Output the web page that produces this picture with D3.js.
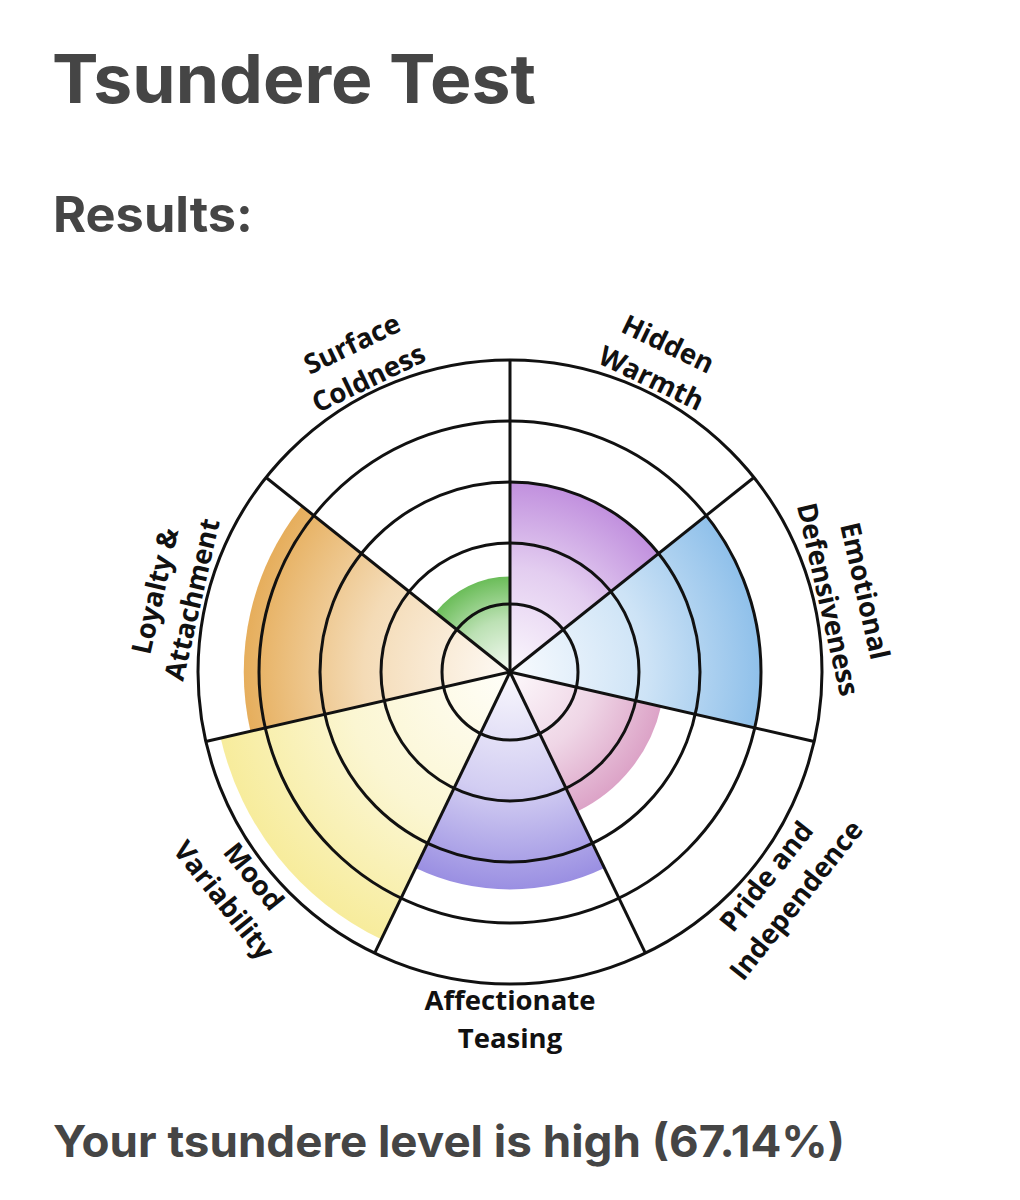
<!DOCTYPE html>
<html>
<head>
<meta charset="utf-8">
<script src="https://cdn.jsdelivr.net/npm/d3@7"></script>
<style>
  html, body { margin: 0; padding: 0; background: #ffffff; }
  svg { display: block; }
</style>
</head>
<body>
<svg id="chart" width="1020" height="1200"></svg>
<script>
// ---- data ----
const categories = ["Hidden Warmth", "Emotional Defensiveness", "Pride and Independence",
  "Affectionate Teasing", "Mood Variability", "Loyalty & Attachment", "Surface Coldness"];
const labelLines = [["Hidden", "Warmth"], ["Emotional", "Defensiveness"], ["Pride and", "Independence"],
  ["Affectionate", "Teasing"], ["Mood", "Variability"], ["Loyalty &", "Attachment"], ["Surface", "Coldness"]];
const values = [60, 80, 48.5, 69, 95, 85, 29];
const colors = ["#c190de", "#8fc0ea", "#dca3c7", "#9a8fe2", "#f7ec9c", "#e6ae5c", "#6bbd59"];
const ringTicks = [20, 40, 60, 80, 100];
const titleText = "Tsundere Test";
const subtitleText = "Results:";
const resultText = "Your tsundere level is high (67.14%)";

// ---- layout ----
const svg = d3.select("#chart");
const cx = 510, cy = 672;
const n = categories.length;
const r = d3.scaleLinear().domain([0, 100]).range([7, 312]);
const ang = d3.scaleLinear().domain([0, n]).range([0, 2 * Math.PI]);
const textColor = "#454545";
const titleFont = "Inter, 'Open Sans', sans-serif";

svg.append("text").attr("x", 52).attr("y", 103)
  .attr("font-family", titleFont).attr("font-weight", 700).attr("font-size", 67)
  .attr("fill", textColor).attr("textLength", 484).attr("lengthAdjust", "spacingAndGlyphs")
  .text(titleText);
svg.append("text").attr("x", 53).attr("y", 232)
  .attr("font-family", titleFont).attr("font-weight", 700).attr("font-size", 49)
  .attr("fill", textColor).attr("textLength", 200).attr("lengthAdjust", "spacingAndGlyphs")
  .text(subtitleText);
svg.append("text").attr("x", 53).attr("y", 1157)
  .attr("font-family", titleFont).attr("font-weight", 700).attr("font-size", 44)
  .attr("fill", textColor).attr("textLength", 792).attr("lengthAdjust", "spacingAndGlyphs")
  .text(resultText);

const g = svg.append("g").attr("transform", `translate(${cx},${cy})`);
const defs = svg.append("defs");

const data = categories.map((c, i) => ({ cat: c, i, value: values[i], color: colors[i], lines: labelLines[i] }));

data.forEach(d => {
  const grad = defs.append("radialGradient")
    .attr("id", "grad" + d.i)
    .attr("gradientUnits", "userSpaceOnUse")
    .attr("cx", 0).attr("cy", 0).attr("r", r(d.value));
  grad.append("stop").attr("offset", 0).attr("stop-color", d3.interpolateRgb("#ffffff", d.color)(0.06));
  grad.append("stop").attr("offset", 0.55).attr("stop-color", d3.interpolateRgb("#ffffff", d.color)(0.45));
  grad.append("stop").attr("offset", 1).attr("stop-color", d.color);
});

const arc = d3.arc()
  .innerRadius(0)
  .outerRadius(d => r(d.value))
  .startAngle(d => ang(d.i))
  .endAngle(d => ang(d.i + 1));

g.selectAll("path.wedge").data(data).join("path")
  .attr("class", "wedge")
  .attr("d", arc)
  .attr("fill", d => `url(#grad${d.i})`);

// rings
g.selectAll("circle.ring").data(ringTicks).join("circle")
  .attr("class", "ring")
  .attr("r", d => r(d))
  .attr("fill", "none")
  .attr("stroke", "#111")
  .attr("stroke-width", 3);

// spokes
g.selectAll("line.spoke").data(d3.range(n)).join("line")
  .attr("class", "spoke")
  .attr("x1", 0).attr("y1", 0)
  .attr("x2", i => r(100) * Math.sin(ang(i)))
  .attr("y2", i => -r(100) * Math.cos(ang(i)))
  .attr("stroke", "#111")
  .attr("stroke-width", 3);

// labels
const labelR = 346;
const lineGap = 19;
const lab = g.selectAll("g.label").data(data).join("g")
  .attr("class", "label")
  .attr("transform", d => {
    const a = (ang(d.i) + ang(d.i + 1)) / 2;
    const deg = a * 180 / Math.PI;
    const flip = deg > 90 && deg < 270;
    const x = labelR * Math.sin(a), y = -labelR * Math.cos(a);
    return `translate(${x},${y}) rotate(${flip ? deg - 180 : deg})`;
  });
lab.each(function(d) {
  const t = d3.select(this).append("text")
    .attr("text-anchor", "middle")
    .attr("font-family", "'Open Sans', sans-serif")
    .attr("font-weight", 700)
    .attr("font-size", 27.5)
    .attr("fill", "#111");
  d.lines.forEach((ln, k) => {
    t.append("tspan").attr("x", 0)
      .attr("y", (k === 0 ? -lineGap : lineGap))
      .attr("dominant-baseline", "central")
      .text(ln);
  });
});
</script>
</body>
</html>
